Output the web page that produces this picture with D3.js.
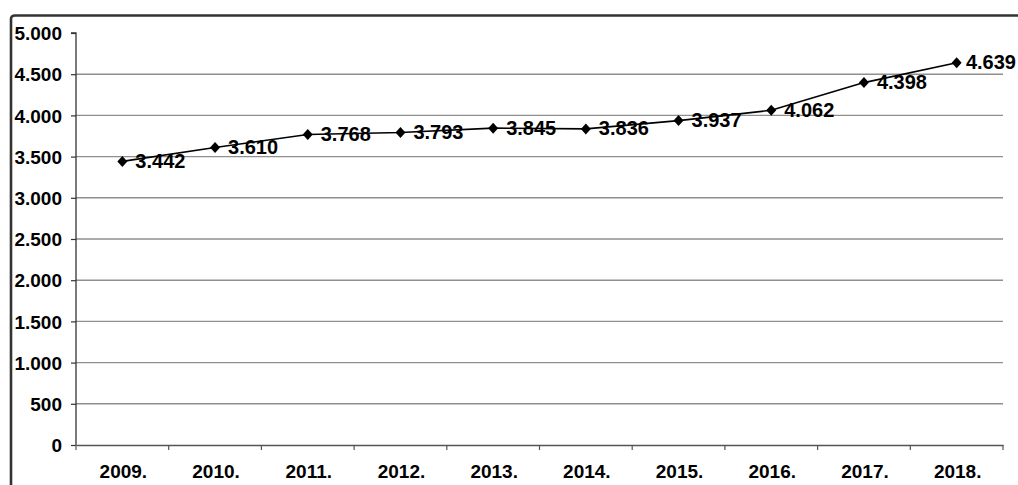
<!DOCTYPE html>
<html>
<head>
<meta charset="utf-8">
<script src="https://cdn.jsdelivr.net/npm/d3@7"></script>
<style>
  html, body { margin: 0; padding: 0; background: #fff; }
  svg { display: block; }
  text { font-family: "Liberation Sans", Arial, sans-serif; font-weight: bold; fill: #000; }
</style>
</head>
<body>
<svg id="chart" width="1018" height="485"></svg>
<script>
const categories = ["2009.", "2010.", "2011.", "2012.", "2013.", "2014.", "2015.", "2016.", "2017.", "2018."];
const values = [3442, 3610, 3768, 3793, 3845, 3836, 3937, 4062, 4398, 4639];
const yTicks = [0, 500, 1000, 1500, 2000, 2500, 3000, 3500, 4000, 4500, 5000];
const yTickLabels = ["0", "500", "1.000", "1.500", "2.000", "2.500", "3.000", "3.500", "4.000", "4.500", "5.000"];
const dataLabels = ["3.442", "3.610", "3.768", "3.793", "3.845", "3.836", "3.937", "4.062", "4.398", "4.639"];

(function () {
const svg = d3.select("#chart");
const W = 1018;
const mLeft = 76, mRight = 1003, mTop = 33, mBottom = 445;

const x = d3.scaleBand().domain(categories).range([mLeft, mRight]).padding(0);
const y = d3.scaleLinear().domain([0, 5000]).range([mBottom, mTop]);

// outer frame (partial, like the cropped picture)
svg.append("path")
  .attr("d", `M11,485 L11,19 Q11,15.5 15,15.5 L${W},15.5`)
  .attr("fill", "none").attr("stroke", "#333").attr("stroke-width", 2.6);

// gridlines
svg.append("g").selectAll("line")
  .data(yTicks.filter(d => d > 0 && d < 5000))
  .join("line")
  .attr("x1", mLeft).attr("x2", mRight)
  .attr("y1", d => y(d)).attr("y2", d => y(d))
  .attr("stroke", "#8f8f8f").attr("stroke-width", 1.4);

// y axis
const yAxis = d3.axisLeft(y).tickValues(yTicks).tickSize(5).tickPadding(9)
  .tickFormat((d, i) => yTickLabels[i]);
const gy = svg.append("g").attr("transform", `translate(${mLeft},0)`).call(yAxis);
gy.select(".domain").attr("stroke", "#333").attr("stroke-width", 1.3).attr("d", `M-5,${mTop}H0V${mBottom}`);
gy.selectAll(".tick line").attr("stroke", "#333").attr("stroke-width", 1.2);
gy.selectAll(".tick text").style("font-size", "19px").attr("letter-spacing", "0px")
  .attr("dy", "0.35em").attr("x", -14);

// x axis
const xAxis = d3.axisBottom(x).tickSize(0).tickPadding(0);
const gx = svg.append("g").attr("transform", `translate(0,${mBottom})`).call(xAxis);
gx.select(".domain").attr("stroke", "#555").attr("stroke-width", 1.3);
gx.selectAll(".tick text").style("font-size", "19px").attr("letter-spacing", "0px")
  .attr("y", 33).attr("dy", 0).attr("dx", 1);
// category separators
const edges = categories.map(c => x(c)).concat([x(categories[categories.length - 1]) + x.bandwidth()]);
svg.append("g").selectAll("line")
  .data(edges)
  .join("line")
  .attr("x1", d => d).attr("x2", d => d)
  .attr("y1", mBottom).attr("y2", mBottom + 5)
  .attr("stroke", "#555").attr("stroke-width", 1.2);

const cx = c => x(c) + x.bandwidth() / 2;

// line
svg.append("path")
  .datum(values)
  .attr("fill", "none").attr("stroke", "#000").attr("stroke-width", 1.6)
  .attr("d", d3.line().x((d, i) => cx(categories[i])).y(d => y(d)));

// markers
svg.append("g").selectAll("path")
  .data(values)
  .join("path")
  .attr("transform", (d, i) => `translate(${cx(categories[i])},${y(d)})`)
  .attr("d", "M0,-5.5L5,0L0,5.5L-5,0Z")
  .attr("fill", "#000");

// data labels (kept inside the picture)
svg.append("g").selectAll("text")
  .data(values)
  .join("text")
  .attr("y", d => y(d) + 6.5)
  .style("font-size", "20px")
  .text((d, i) => dataLabels[i])
  .attr("x", function (d, i) {
    const w = this.getComputedTextLength();
    return Math.min(cx(categories[i]) + 13, W - 2 - w);
  });
})();
</script>
</body>
</html>
